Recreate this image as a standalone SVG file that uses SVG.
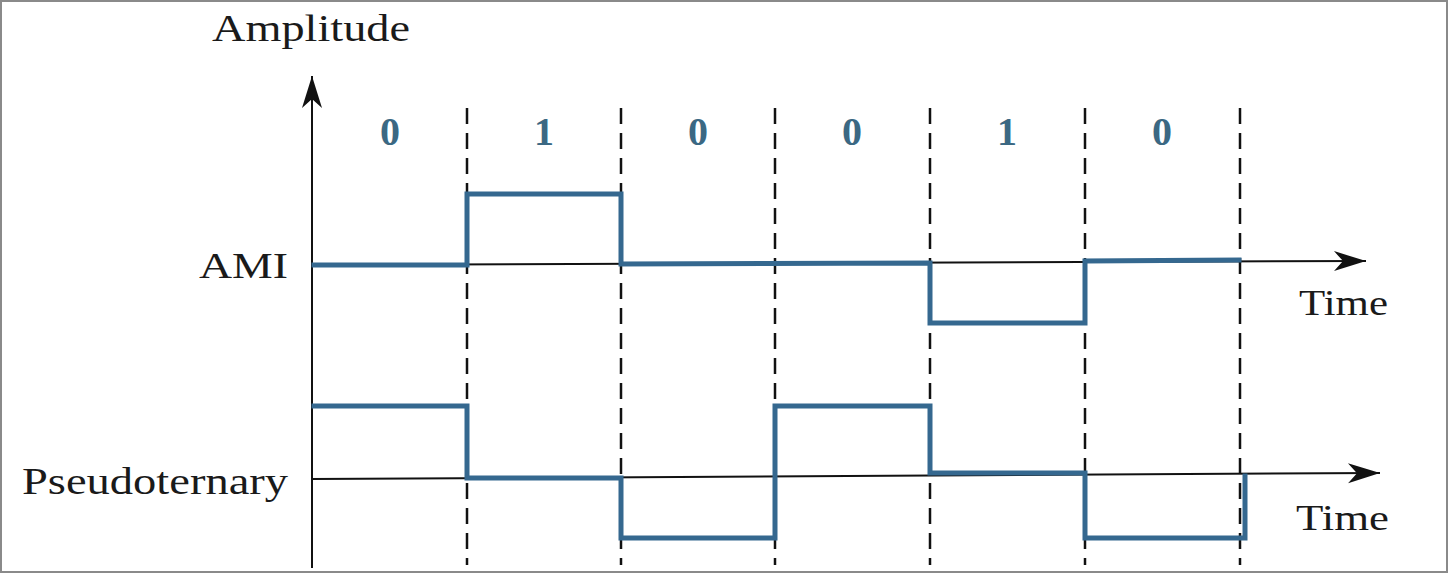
<svg xmlns="http://www.w3.org/2000/svg" width="1449" height="574" viewBox="0 0 1449 574">
<style>
.lbl{font-family:"Liberation Serif","Times New Roman",Times,serif;fill:#1a1a1a}
.bit{font-family:"Liberation Serif","Times New Roman",Times,serif;font-weight:bold;font-size:40px;fill:#3b6883;text-anchor:middle}
.axis{stroke:#111;stroke-width:2;fill:none}
.dash{stroke:#111;stroke-width:2.5;stroke-dasharray:16 9;fill:none}
.sig{stroke:#35688f;stroke-width:5;fill:none;stroke-linejoin:miter;stroke-linecap:square}
</style>
<defs>
<marker id="arr" markerUnits="userSpaceOnUse" markerWidth="40" markerHeight="30" viewBox="-36 -12 40 24" refX="0" refY="0" orient="auto">
<path d="M0,0 L-32,-10 L-23,0 L-32,10 Z" fill="#111"/>
</marker>
</defs>
<rect x="1" y="1" width="1446" height="571" fill="#fff" stroke="#8a8a8a" stroke-width="2"/>

<g id="axes">
<line class="axis" x1="312" y1="568" x2="312" y2="76" marker-end="url(#arr)"/>
<line class="axis" x1="312" y1="265" x2="1366" y2="261" marker-end="url(#arr)"/>
<line class="axis" x1="312" y1="479" x2="1380" y2="473" marker-end="url(#arr)"/>
</g>

<g id="dividers">
<line class="dash" x1="467" y1="108" x2="467" y2="565"/>
<line class="dash" x1="621" y1="108" x2="621" y2="565"/>
<line class="dash" x1="775" y1="108" x2="775" y2="565"/>
<line class="dash" x1="930" y1="108" x2="930" y2="565"/>
<line class="dash" x1="1085" y1="108" x2="1085" y2="565"/>
<line class="dash" x1="1240" y1="108" x2="1240" y2="565"/>
</g>

<g id="bits">
<text class="bit" x="390" y="145">0</text>
<text class="bit" x="544" y="145">1</text>
<text class="bit" x="698" y="145">0</text>
<text class="bit" x="852" y="145">0</text>
<text class="bit" x="1007" y="145">1</text>
<text class="bit" x="1162" y="145">0</text>
</g>

<g id="labels">
<text class="lbl" x="212" y="41" font-size="38" textLength="198" lengthAdjust="spacingAndGlyphs">Amplitude</text>
<text class="lbl" x="199" y="278" font-size="36" textLength="89" lengthAdjust="spacingAndGlyphs">AMI</text>
<text class="lbl" x="22" y="494" font-size="38" textLength="266" lengthAdjust="spacingAndGlyphs">Pseudoternary</text>
<text class="lbl" x="1299" y="315" font-size="36" textLength="89" lengthAdjust="spacingAndGlyphs">Time</text>
<text class="lbl" x="1296" y="530" font-size="36" textLength="93" lengthAdjust="spacingAndGlyphs">Time</text>
</g>

<g id="ami-signal">
<polyline class="sig" points="314,265 467,265 467,194 621,194 621,264 930,263 930,323 1085,323 1085,261 1239,260"/>
</g>

<g id="pseudoternary-signal">
<polyline class="sig" points="314,406 467,406 467,478 621,478 621,538 775,538 775,406 930,406 930,473 1085,473 1085,538 1245,538 1245,476"/>
</g>
</svg>
